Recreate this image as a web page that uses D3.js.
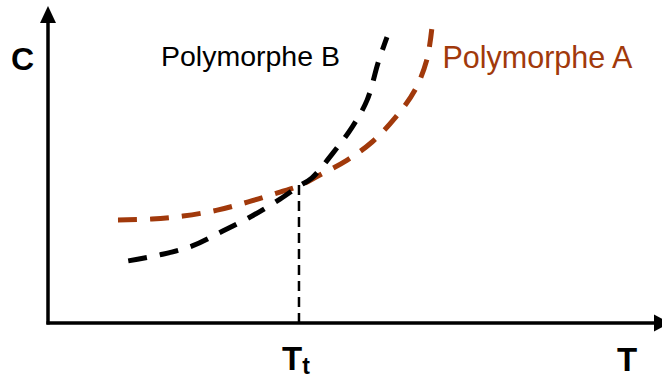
<!DOCTYPE html>
<html>
<head>
<meta charset="utf-8">
<script src="https://cdn.jsdelivr.net/npm/d3@7/dist/d3.min.js"></script>
<style>
  html, body { margin: 0; padding: 0; background: #fff; }
  svg { display: block; }
</style>
</head>
<body>
<svg id="chart" width="662" height="380"></svg>
<script>
// Solubility C versus temperature T for two polymorphs (arbitrary units)
const polyA_T = [11.25, 16.7, 21.7, 27.2, 32.2, 37.3, 40.35, 43.7, 48.1, 52.1, 55.8, 59.0, 60.9, 61.7];
const polyA_C = [32.5, 32.8, 33.75, 35.6, 38.2, 41.3, 43.2, 46.7, 51.4, 57.1, 64.7, 73.5, 83.0, 92.7];

const polyB_T = [12.9, 18.0, 23.2, 28.1, 32.8, 37.3, 40.35, 42.4, 45.8, 48.9, 51.3, 53.1, 54.5];
const polyB_C = [19.6, 21.5, 24.3, 29.0, 33.75, 39.1, 43.2, 45.7, 53.6, 61.8, 70.3, 82.3, 90.2];

// Transition temperature and the solubility where both curves meet
const transitionT = 40.35;
const transitionC = 43.2;

const axisLabels = { x: "T", y: "C", transition: "T", transitionSub: "t" };
const seriesNames = ["Polymorphe A", "Polymorphe B"];

const svg = d3.select("#chart");
const x = d3.scaleLinear().domain([0, 100]).range([48, 670]);
const y = d3.scaleLinear().domain([0, 100]).range([323, 6]);

const orange = "#a1390b";

const line = d3.line()
  .x(d => x(d[0]))
  .y(d => y(d[1]))
  .curve(d3.curveCatmullRom.alpha(0.5));

const seriesA = polyA_T.map((t, i) => [t, polyA_C[i]]);
const seriesB = polyB_T.map((t, i) => [t, polyB_C[i]]);

// Axes with arrowheads
svg.append("line")
  .attr("x1", x(0)).attr("y1", y(0) + 1.5)
  .attr("x2", x(0)).attr("y2", y(100) + 14)
  .attr("stroke", "#000").attr("stroke-width", 3.5);
svg.append("path")
  .attr("d", `M${x(0)},${y(100)} L${x(0) - 8},${y(100) + 17} L${x(0) + 8},${y(100) + 17} Z`)
  .attr("fill", "#000");

svg.append("line")
  .attr("x1", x(0) - 1.5).attr("y1", y(0))
  .attr("x2", x(100) - 14).attr("y2", y(0))
  .attr("stroke", "#000").attr("stroke-width", 3.5);
svg.append("path")
  .attr("d", `M${x(100)},${y(0)} L${x(100) - 16},${y(0) - 8.5} L${x(100) - 16},${y(0) + 8.5} Z`)
  .attr("fill", "#000");

// Drop line at the transition temperature
svg.append("line")
  .attr("x1", x(transitionT)).attr("y1", y(transitionC) - 1)
  .attr("x2", x(transitionT)).attr("y2", y(0))
  .attr("stroke", "#000").attr("stroke-width", 2.5)
  .attr("stroke-dasharray", "10,6");

// Solubility curves
svg.append("path")
  .datum(seriesA)
  .attr("d", line)
  .attr("fill", "none")
  .attr("stroke", orange)
  .attr("stroke-width", 5)
  .attr("stroke-dasharray", "19,13");

svg.append("path")
  .datum(seriesB)
  .attr("d", line)
  .attr("fill", "none")
  .attr("stroke", "#000")
  .attr("stroke-width", 5)
  .attr("stroke-dasharray", "19,13");

// Labels
const font = "Liberation Sans, Arial, sans-serif";

svg.append("text")
  .attr("x", 11).attr("y", 69.5)
  .attr("font-family", font).attr("font-weight", "bold").attr("font-size", 32)
  .attr("fill", "#000")
  .text(axisLabels.y);

svg.append("text")
  .attr("x", 627).attr("y", 371)
  .attr("text-anchor", "middle")
  .attr("font-family", font).attr("font-weight", "bold").attr("font-size", 33)
  .attr("fill", "#000")
  .text(axisLabels.x);

const tt = svg.append("text")
  .attr("x", 282).attr("y", 370)
  .attr("font-family", font).attr("font-weight", "bold").attr("font-size", 33)
  .attr("fill", "#000");
tt.append("tspan").text(axisLabels.transition);
tt.append("tspan").attr("font-size", 23).attr("dy", 4).text(axisLabels.transitionSub);

svg.append("text")
  .attr("x", 161).attr("y", 66)
  .attr("font-family", font).attr("font-size", 28.5)
  .attr("fill", "#000")
  .text(seriesNames[1]);

svg.append("text")
  .attr("x", 442.5).attr("y", 68)
  .attr("font-family", font).attr("font-size", 30.5)
  .attr("fill", orange)
  .text(seriesNames[0]);
</script>
</body>
</html>
